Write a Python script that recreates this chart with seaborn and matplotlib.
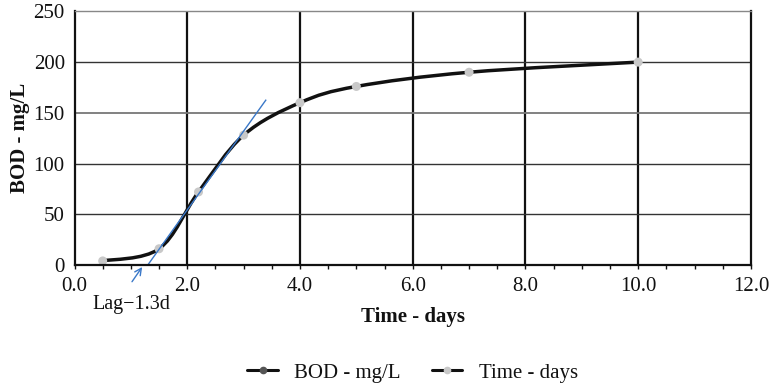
import numpy as np
import pandas as pd
import seaborn as sns
import matplotlib
matplotlib.use("Agg")
import matplotlib.pyplot as plt
from matplotlib.path import Path
from matplotlib.patches import PathPatch
from matplotlib.lines import Line2D

# BOD curve observations
time_days = [0.5, 1.5, 2.2, 3.0, 4.0, 5.0, 7.0, 10.0]
bod_mg_l = [4, 16, 72, 128, 160, 176, 190, 200]

# Lag-phase tangent
lag_days = 1.3
tangent_end = (3.4, 163)

x_ticks = [0, 2, 4, 6, 8, 10, 12]
y_ticks = [0, 50, 100, 150, 200, 250]
series_labels = ["BOD - mg/L", "Time - days"]

df = pd.DataFrame({"time": time_days, "bod": bod_mg_l})

sns.set_theme(style="white")
plt.rcParams["font.family"] = ["Liberation Serif", "DejaVu Serif"]

fig = plt.figure(figsize=(7.73, 3.86), dpi=100)
ax = fig.add_axes([0.0964, 0.3135, 0.875, 0.657])

ax.set_xlim(0, 12)
ax.set_ylim(0, 250)

# grid
for xv in x_ticks[1:-1]:
    ax.axvline(xv, color="#111111", lw=1.6, zorder=1)
for yv in y_ticks[1:-1]:
    col, lw = ("#777777", 1.3) if yv == 150 else ("#333333", 1.0)
    ax.axhline(yv, color=col, lw=lw, zorder=1)

# smoothed curve through the observations (cubic Bezier segments)
pts = np.column_stack([time_days, bod_mg_l]).astype(float)
ext = np.vstack([pts[0], pts, pts[-1]])
verts = [tuple(pts[0])]
codes = [Path.MOVETO]
for i in range(len(pts) - 1):
    p_prev, p0, p1, p_next = ext[i], ext[i + 1], ext[i + 2], ext[i + 3]
    c1 = p0 + (p1 - p_prev) / 6.0
    c2 = p1 - (p_next - p0) / 6.0
    verts += [tuple(c1), tuple(c2), tuple(p1)]
    codes += [Path.CURVE4] * 3
curve = PathPatch(Path(verts, codes), fill=False, edgecolor="#111111",
                  lw=2.5, capstyle="round", joinstyle="round", zorder=3)
ax.add_patch(curve)

sns.scatterplot(data=df, x="time", y="bod", ax=ax, color="#c8c8c8", s=42,
                edgecolor="none", zorder=4, legend=False)

# tangent line and lag marker
ax.plot([lag_days, tangent_end[0]], [0, tangent_end[1]], color="#3a78c8",
        lw=1.0, zorder=5, solid_capstyle="butt")
ax.annotate("", xy=(lag_days - 0.1, -2), xytext=(lag_days - 0.28, -16.5),
            arrowprops=dict(arrowstyle="->", color="#3a78c8", lw=1.0,
                            shrinkA=0, shrinkB=0, mutation_scale=12),
            annotation_clip=False, zorder=5)
ax.text(0.32, -39, f"Lag\u2212{lag_days:.1f}d", fontsize=14.5, ha="left",
        va="center", color="#111111", clip_on=False)

# spines
for side in ["left", "bottom", "right"]:
    ax.spines[side].set_color("#111111")
    ax.spines[side].set_linewidth(1.6)
ax.spines["top"].set_color("#888888")
ax.spines["top"].set_linewidth(1.0)
for s in ax.spines.values():
    s.set_zorder(6)

ax.set_xticks(x_ticks)
ax.set_xticklabels([f"{v:.1f}" for v in x_ticks])
ax.set_xticks(np.arange(0, 12.01, 0.5), minor=True)
ax.set_yticks(y_ticks)
ax.set_yticklabels([str(v) for v in y_ticks])
ax.tick_params(axis="x", which="both", direction="out", length=3, width=1.0,
               color="#111111", bottom=True, labelsize=15, pad=6,
               labelcolor="#111111")
ax.tick_params(axis="y", which="both", length=0, labelsize=15, pad=7,
               labelcolor="#111111")

ax.set_xlabel("Time - days", fontsize=15, fontweight="bold", color="#111111")
ax.set_ylabel("BOD - mg/L", fontsize=15, fontweight="bold", color="#111111")
ax.xaxis.set_label_coords(0.5, -0.165)
ax.yaxis.set_label_coords(-0.066, 0.5)

handles = [
    Line2D([], [], color="#111111", lw=2.2, marker="o", markersize=4.5,
           markerfacecolor="#555555", markeredgecolor="#555555"),
    Line2D([], [], color="#111111", lw=2.2, marker="o", markersize=4.5,
           markerfacecolor="#c8c8c8", markeredgecolor="#c8c8c8"),
]
fig.legend(handles, series_labels, loc="center", ncol=2, frameon=False,
           bbox_to_anchor=(0.534, 0.034), fontsize=15, handlelength=1.45,
           handletextpad=0.8, columnspacing=1.5, labelcolor="#111111")

fig.savefig("out.png", dpi=100)
